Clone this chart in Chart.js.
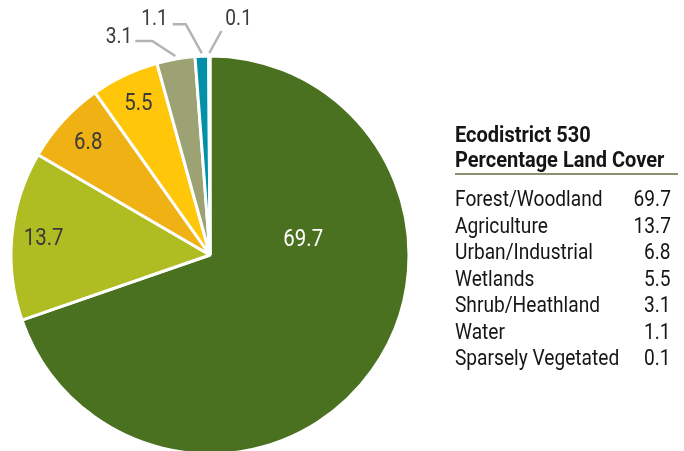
<!DOCTYPE html>
<html>
<head>
<meta charset="utf-8">
<script src="https://cdn.jsdelivr.net/npm/chart.js@4"></script>
<style>
  html, body { margin: 0; padding: 0; background: #fff; }
  #wrap { position: relative; width: 684px; height: 451px; overflow: hidden; font-family: Roboto, sans-serif; }
  #pieChart { position: absolute; left: 0; top: 0; }
  .cond { display: inline-block; white-space: nowrap; transform: scaleX(0.87); transform-origin: left center; }
  #keyTitle { position: absolute; left: 455px; top: 123px; font-weight: bold; font-size: 22px; line-height: 24.5px; color: #151515; }
  #keyTitle .cond { transform: scaleX(0.91); }
  #keyRule { position: absolute; left: 455px; top: 173px; width: 223px; height: 2px; background: #8d8f6f; }
  .row { position: absolute; left: 455px; width: 216px; height: 26.5px; font-size: 22px; line-height: 26.5px; color: #151515; }
  .row .lab { position: absolute; left: 0; top: 0; }
  .row .val { position: absolute; right: 0; top: 0; transform-origin: right center; }
</style>
</head>
<body>
<div id="wrap">
  <canvas id="pieChart" width="684" height="451"></canvas>
  <div id="keyTitle"></div>
  <div id="keyRule"></div>
  <div id="keyRows"></div>
</div>
<script>
// データ
let titleLines = ['Ecodistrict 530', 'Percentage Land Cover'];
let categories = ['Forest/Woodland', 'Agriculture', 'Urban/Industrial', 'Wetlands', 'Shrub/Heathland', 'Water', 'Sparsely Vegetated'];
let values = [69.7, 13.7, 6.8, 5.5, 3.1, 1.1, 0.1];

let sliceColors = ['#4a7120', '#afbd22', '#efb114', '#ffc60a', '#9ca274', '#0091a8', '#c9c9c9'];

// ラベルの置き方（内側：角度のずれ・半径比、外側：引き出し線）
let labelPlacement = [
  { inside: true, shift: -44.7, r: 0.475, color: '#ffffff' },
  { inside: true, shift: 0, r: 0.84, color: '#3a3a3a' },
  { inside: true, shift: 0, r: 0.83, color: '#3a3a3a' },
  { inside: true, shift: 0, r: 0.84, color: '#3a3a3a' },
  { inside: false, dx: -23, dy: -15, h: -17, tx: -3, ty: -4, align: 'right' },
  { inside: false, dx: -16, dy: -29, h: -13, tx: -5, ty: -5, align: 'right' },
  { inside: false, dx: 12, dy: -22, h: 0, tx: 4, ty: -12, align: 'left' }
];

function condText(ctx, text, x, y, align, size) {
  ctx.save();
  ctx.font = size + 'px Roboto';
  ctx.textAlign = align;
  ctx.textBaseline = 'middle';
  ctx.translate(x, y);
  ctx.scale(0.87, 1);
  ctx.fillText(text, 0, 0);
  ctx.restore();
}

// スライスのラベル
let sliceLabels = {
  id: 'sliceLabels',
  afterDatasetsDraw(chart) {
    let ctx = chart.ctx;
    let meta = chart.getDatasetMeta(0);
    meta.data.forEach((arc, i) => {
      let p = arc.getProps(['x', 'y', 'startAngle', 'endAngle', 'outerRadius'], true);
      let mid = (p.startAngle + p.endAngle) / 2;
      let opt = labelPlacement[i];
      let text = values[i].toFixed(1);
      if (opt.inside) {
        let a = mid + opt.shift * Math.PI / 180;
        let lx = p.x + Math.cos(a) * p.outerRadius * opt.r;
        let ly = p.y + Math.sin(a) * p.outerRadius * opt.r;
        ctx.fillStyle = opt.color;
        condText(ctx, text, lx, ly, 'center', 23.5);
      } else {
        let sx = p.x + Math.cos(mid) * (p.outerRadius + 3);
        let sy = p.y + Math.sin(mid) * (p.outerRadius + 3);
        let ex = sx + opt.dx, ey = sy + opt.dy;
        let hx = ex + opt.h;
        ctx.save();
        ctx.strokeStyle = '#b3b3b3';
        ctx.lineWidth = 2.5;
        ctx.beginPath();
        ctx.moveTo(sx, sy);
        ctx.lineTo(ex, ey);
        ctx.lineTo(hx, ey);
        ctx.stroke();
        ctx.restore();
        ctx.fillStyle = '#3a3a3a';
        condText(ctx, text, hx + opt.tx, ey + opt.ty, opt.align, 22);
      }
    });
  }
};

let pieCtx = document.getElementById('pieChart');

let pieConfig = {
  type: 'pie',
  data: {
    labels: categories,
    datasets: [{
      data: values,
      backgroundColor: sliceColors,
      borderColor: '#ffffff',
      borderWidth: 3,
      clip: false
    }]
  },
  options: {
    responsive: false,
    animation: false,
    radius: 199,
    layout: {
      padding: { left: 0, right: 264, top: 59, bottom: 0 }
    },
    plugins: {
      legend: { display: false },
      tooltip: { enabled: false }
    }
  },
  plugins: [sliceLabels]
};

let pieChart = new Chart(pieCtx, pieConfig);

// 右側の凡例（表）
document.getElementById('keyTitle').innerHTML =
  titleLines.map(t => '<span class="cond">' + t + '</span>').join('<br>');

let rowsBox = document.getElementById('keyRows');
categories.forEach((name, i) => {
  let row = document.createElement('div');
  row.className = 'row';
  row.style.top = (186.2 + i * 26.5) + 'px';
  row.innerHTML = '<span class="lab cond">' + name + '</span>' +
    '<span class="val cond">' + values[i].toFixed(1) + '</span>';
  rowsBox.appendChild(row);
});
</script>
</body>
</html>
